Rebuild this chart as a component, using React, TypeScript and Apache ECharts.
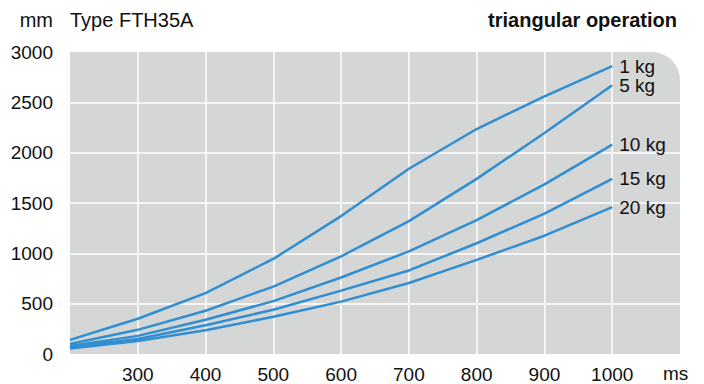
import React, { useEffect, useRef } from "react";
import * as echarts from "echarts";

const xValues = [200, 300, 400, 500, 600, 700, 800, 900, 1000];
const seriesNames = ["1 kg", "5 kg", "10 kg", "15 kg", "20 kg"];
const kg1 = [140, 350, 605, 945, 1370, 1840, 2235, 2560, 2860];
const kg5 = [100, 240, 430, 670, 970, 1320, 1740, 2195, 2670];
const kg10 = [80, 180, 340, 525, 760, 1020, 1330, 1685, 2080];
const kg15 = [70, 150, 285, 440, 630, 830, 1100, 1395, 1740];
const kg20 = [55, 130, 235, 370, 520, 705, 935, 1175, 1460];
const allSeries = [kg1, kg5, kg10, kg15, kg20];

const FONT = "'Liberation Sans', Arial, Helvetica, sans-serif";
const LINE = "#2f8fd2";

export default function App() {
  const ref = useRef<HTMLDivElement>(null);
  useEffect(() => {
    const chart = echarts.init(ref.current!, null, { renderer: "svg" });
    const G = { left: 70, top: 52, width: 610, height: 302 };
    chart.setOption({
      animation: false,
      backgroundColor: "#ffffff",
      grid: { left: G.left, top: G.top, width: G.width, height: G.height },
      graphic: [
        {
          type: "rect",
          z: -10,
          silent: true,
          shape: { x: G.left, y: G.top, width: G.width, height: G.height, r: [0, 28, 0, 0] },
          style: { fill: "#d5d6d6" },
        },
        { type: "text", x: 53, y: 20, style: { text: "mm", font: `20px ${FONT}`, fill: "#111", align: "right", verticalAlign: "middle" } },
        { type: "text", x: 70, y: 20, style: { text: "Type FTH35A", font: `20px ${FONT}`, fill: "#111", align: "left", verticalAlign: "middle" } },
        { type: "text", x: 677, y: 20, style: { text: "triangular operation", font: `bold 20px ${FONT}`, fill: "#111", align: "right", verticalAlign: "middle" } },
        { type: "text", x: 663, y: 373, style: { text: "ms", font: `19px ${FONT}`, fill: "#111", align: "left", verticalAlign: "middle" } },
      ],
      xAxis: {
        type: "value",
        min: 200,
        max: 1100,
        interval: 100,
        axisLine: { show: false },
        axisTick: { show: false },
        axisLabel: {
          margin: 11,
          fontSize: 19,
          fontFamily: FONT,
          color: "#111",
          formatter: (v: number) => (v === 200 || v === 1100 ? "" : String(v)),
        },
        splitLine: { show: true, showMinLine: false, showMaxLine: false, lineStyle: { color: "#ffffff", width: 1.5 } },
      },
      yAxis: {
        type: "value",
        min: 0,
        max: 3000,
        interval: 500,
        axisLine: { show: false },
        axisTick: { show: false },
        axisLabel: { margin: 17, fontSize: 19, fontFamily: FONT, color: "#111", formatter: (v: number) => String(v) },
        splitLine: { show: true, showMinLine: false, showMaxLine: false, lineStyle: { color: "#ffffff", width: 1.5 } },
      },
      series: allSeries.map((vals, i) => ({
        type: "line",
        name: seriesNames[i],
        data: xValues.map((x, j) => [x, vals[j]]),
        symbol: "none",
        lineStyle: { color: LINE, width: 2.5 },
        z: 3,
        endLabel: {
          show: true,
          formatter: seriesNames[i],
          distance: 7,
          fontSize: 19,
          fontFamily: FONT,
          color: "#111",
        },
      })),
    });
    return () => chart.dispose();
  }, []);
  return <div ref={ref} style={{ position: "fixed", left: 0, top: 0, width: 704, height: 384 }} />;
}
